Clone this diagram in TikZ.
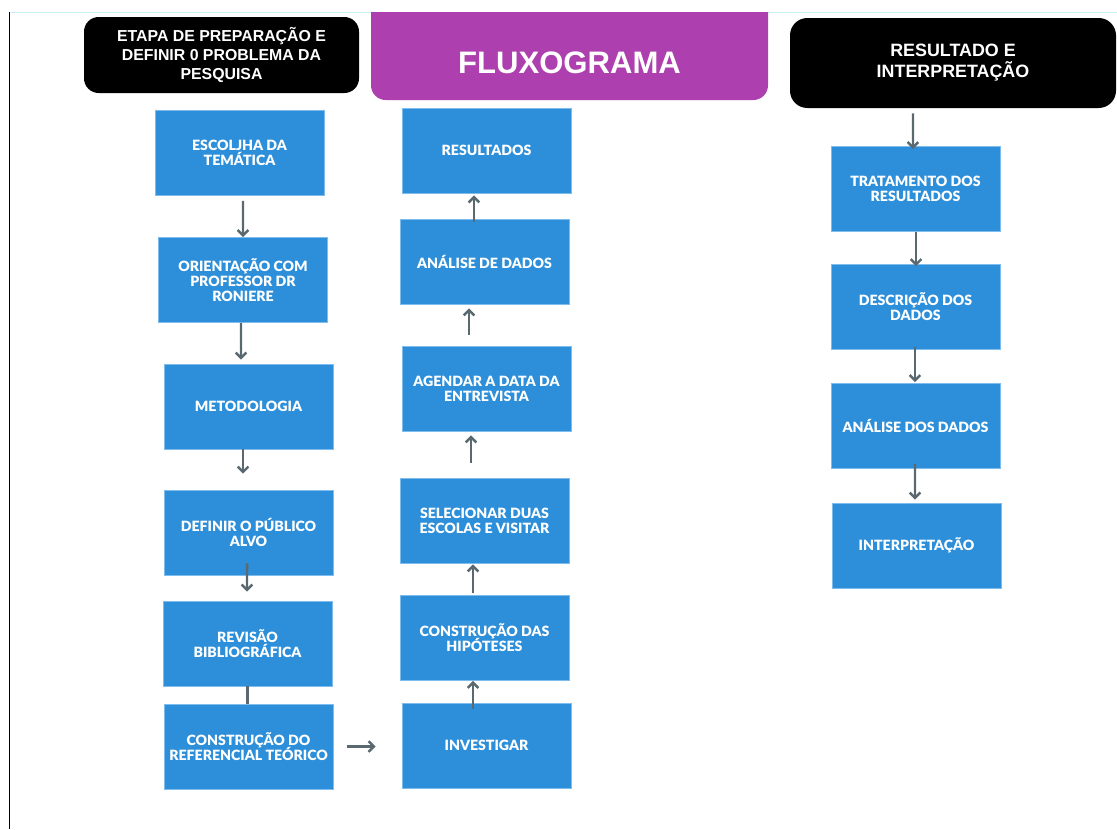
\documentclass[tikz,border=0pt]{standalone}
\usepackage{fontspec}
\setmainfont{Liberation Sans}
\newfontfamily\caixafonte{Lato}[BoldFont={Lato Black}]
\usetikzlibrary{arrows.meta}
\definecolor{caixaazul}{RGB}{45,143,217}
\definecolor{caixaborda}{RGB}{125,188,236}
\definecolor{roxo}{RGB}{174,63,174}
\definecolor{seta}{RGB}{90,105,112}
\definecolor{linhaciano}{RGB}{200,238,245}
\newcommand\caixaletra{\caixafonte\bfseries\fontsize{10.6}{11.2}\selectfont\lineskiplimit=-20pt\relax}

\begin{document}
\begin{tikzpicture}[x=0.75pt,y=-0.75pt,
	caixa/.style={draw=caixaborda, fill=caixaazul, line width=0.6pt, minimum width=126.75pt, minimum height=63.75pt, inner sep=0pt, align=center, text=white, font=\caixaletra},
	cabecalho/.style={fill=black, rounded corners=11pt, inner sep=0pt, align=center, text=white, font=\bfseries},
	flecha/.style={draw=seta, line width=1.8pt, -{Straight Barb[length=4pt,width=8pt]}}]
	\useasboundingbox (0,0) rectangle (1117,829);
	\draw[linhaciano, line width=0.6pt] (9,12) -- (1117,12);
	\draw[black, line width=0.6pt] (9,12) -- (9,829);
	\begin{scope}
		\clip (0,12) rectangle (1117,829);
		\fill[roxo, rounded corners=11pt] (371,-20) rectangle (768,100);
	\end{scope}
	\node[text=white, font=\bfseries\fontsize{23.3}{26}\selectfont] (fluxo) at (569.5,63) {FLUXOGRAMA};
	\node[cabecalho, minimum width=206.25pt, minimum height=57pt, font=\bfseries\fontsize{11.9}{14.25}\selectfont] (cab1) at (221.5,55) {ETAPA DE PREPARAÇÃO E\\DEFINIR 0 PROBLEMA DA\\PESQUISA};
	\node[cabecalho, minimum width=244.5pt, minimum height=67.5pt, rounded corners=13pt, font=\bfseries\fontsize{13.4}{15.75}\selectfont] (cab2) at (953,63) {RESULTADO E\\INTERPRETAÇÃO};

	\node[caixa] (esc) at (239.5,153) {ESCOLJHA DA\\TEMÁTICA};
	\node[caixa] (ori) at (243,280) {ORIENTAÇÃO COM\\PROFESSOR DR\\RONIERE};
	\node[caixa] (met) at (248.5,406.5) {METODOLOGIA};
	\node[caixa] (def) at (248.5,532.5) {DEFINIR O PÚBLICO\\ALVO};
	\node[caixa] (rev) at (247.5,643.5) {REVISÃO\\BIBLIOGRÁFICA};
	\node[caixa] (ref) at (248.5,746.5) {CONSTRUÇÃO DO\\REFERENCIAL TEÓRICO};

	\node[caixa] (inv) at (486.5,745.5) {INVESTIGAR};
	\node[caixa] (hip) at (484.5,638) {CONSTRUÇÃO DAS\\HIPÓTESES};
	\node[caixa] (sel) at (484.5,520.5) {SELECIONAR DUAS\\ESCOLAS E VISITAR};
	\node[caixa] (age) at (486.5,388.5) {AGENDAR A DATA DA\\ENTREVISTA};
	\node[caixa] (ana) at (484.5,261.5) {ANÁLISE DE DADOS};
	\node[caixa] (res) at (486.5,150.5) {RESULTADOS};

	\node[caixa] (tra) at (915.5,189) {TRATAMENTO DOS\\RESULTADOS};
	\node[caixa] (des) at (915.5,307) {DESCRIÇÃO DOS\\DADOS};
	\node[caixa] (and) at (915.5,426) {ANÁLISE DOS DADOS};
	\node[caixa] (int) at (916.5,545.5) {INTERPRETAÇÃO};

	\draw[flecha, shorten <=3.75pt] ([xshift=2.6pt]esc.south) -- (ori.north);
	\draw[flecha, shorten >=3pt] ([xshift=-1.5pt]ori.south) -- ([xshift=-5.6pt]met.north);
	\draw[flecha, shorten >=12pt] ([xshift=-4.1pt]met.south) -- ([xshift=-4.1pt]def.north);
	\draw[flecha, shorten <=-9pt, shorten >=6.75pt] ([xshift=-1.1pt]def.south) -- ([xshift=-0.4pt]rev.north);
	\draw[draw=seta, line width=1.8pt] (rev.south) -- (rev.south |- ref.north);
	\draw[flecha, shorten <=10.5pt, shorten >=19.5pt] (ref.east) -- (ref.east -| inv.west);

	\draw[flecha, shorten <=-5pt] ([xshift=-10.1pt]inv.north) -- ([xshift=-8.6pt]hip.south);
	\draw[flecha, shorten <=1.5pt, shorten >=0.75pt] ([xshift=-8.6pt]hip.north) -- ([xshift=-8.6pt]sel.south);
	\draw[flecha, shorten <=11pt, shorten >=3pt] ([xshift=-10.1pt]sel.north) -- ([xshift=-11.6pt]age.south);
	\draw[flecha, shorten <=8pt, shorten >=3pt] ([xshift=-13.1pt]age.north) -- ([xshift=-11.6pt]ana.south);
	\draw[flecha, shorten <=-2.25pt, shorten >=1.5pt] ([xshift=-7.9pt]ana.north) -- ([xshift=-9.4pt]res.south);

	\draw[flecha, shorten <=3.75pt, shorten >=-2.25pt] ([xshift=-30pt]cab2.south) -- ([xshift=-1.9pt]tra.north);
	\draw[flecha, shorten >=-1.5pt] ([xshift=0.4pt]tra.south) -- ([xshift=0.4pt]des.north);
	\draw[flecha, shorten <=-2.25pt, shorten >=0.75pt] ([xshift=-0.4pt]des.south) -- ([xshift=-0.4pt]and.north);
	\draw[flecha, shorten <=-3.75pt, shorten >=2.25pt] ([xshift=-0.4pt]and.south) -- ([xshift=-1.1pt]int.north);
\end{tikzpicture}
\end{document}
